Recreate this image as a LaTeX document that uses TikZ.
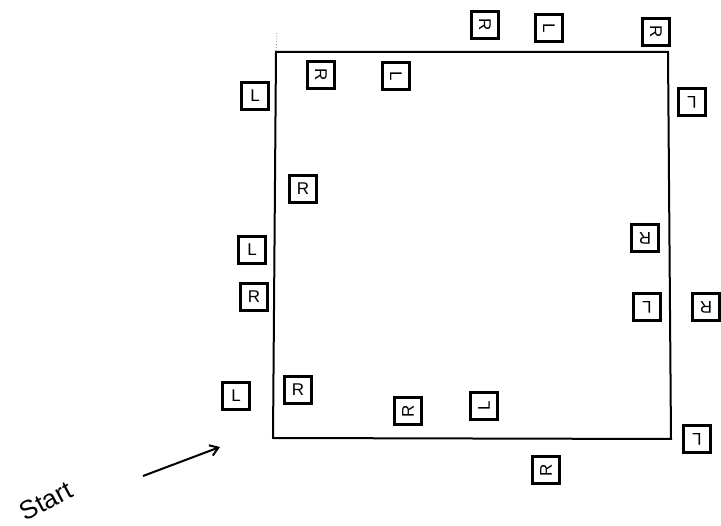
\documentclass[tikz,border=0pt]{standalone}
\usepackage{fontspec}
\setmainfont{Liberation Sans}
\usetikzlibrary{arrows.meta}
\begin{document}
\begin{tikzpicture}[x=1pt,y=-1pt,
  tile/.style={draw,line width=2.2pt,minimum width=27pt,minimum height=27pt,inner sep=0pt,font=\fontsize{17}{17}\selectfont},
  edge/.style={line width=2pt},
  pointer/.style={line width=2pt,-{Straight Barb[length=8pt,width=11pt,line width=2pt]}}]
\useasboundingbox (0,0) rectangle (721,526);
% square corners
\coordinate (tl) at (276,52);
\coordinate (tr) at (668,52);
\coordinate (br) at (671,439);
\coordinate (bl) at (273,438);
\coordinate (tick) at (277,33);
\draw[edge] (tl) -- (tr) -- (br) -- (bl) -- cycle;
\draw[line width=0.8pt,dotted,gray] (tick) -- (tl);
% top outside
\node[tile,rotate=-90] (t1) at (485,25) {R};
\node[tile,rotate=-90] (t2) at (549,28) {L};
\node[tile,rotate=-90] (t3) at (656,32) {R};
% top inside
\node[tile,rotate=-90] (t4) at (321,75) {R};
\node[tile,rotate=-90] (t5) at (396,76) {L};
% left
\node[tile] (l1) at (255,96) {L};
\node[tile] (l2) at (303,189) {R};
\node[tile] (l3) at (252,250) {L};
\node[tile] (l4) at (254,297) {R};
\node[tile] (l5) at (236,396) {L};
\node[tile] (l6) at (298,390) {R};
% right
\node[tile,rotate=180] (r1) at (692,102) {L};
\node[tile,rotate=180] (r2) at (645,238) {R};
\node[tile,rotate=180] (r3) at (647,307) {L};
\node[tile,rotate=180] (r4) at (706,307) {R};
\node[tile,rotate=180] (r5) at (697,439) {L};
% bottom
\node[tile,rotate=90] (b1) at (408,411) {R};
\node[tile,rotate=90] (b2) at (484,406) {L};
\node[tile,rotate=90] (b3) at (546,470) {R};
% start
\node[rotate=28,font=\fontsize{26}{26}\selectfont,inner sep=0pt] (st) at (46,501) {Start};
\coordinate (a0) at (143,476);
\coordinate (a1) at (220,447);
\draw[pointer] (a0) -- (a1);
\end{tikzpicture}
\end{document}
